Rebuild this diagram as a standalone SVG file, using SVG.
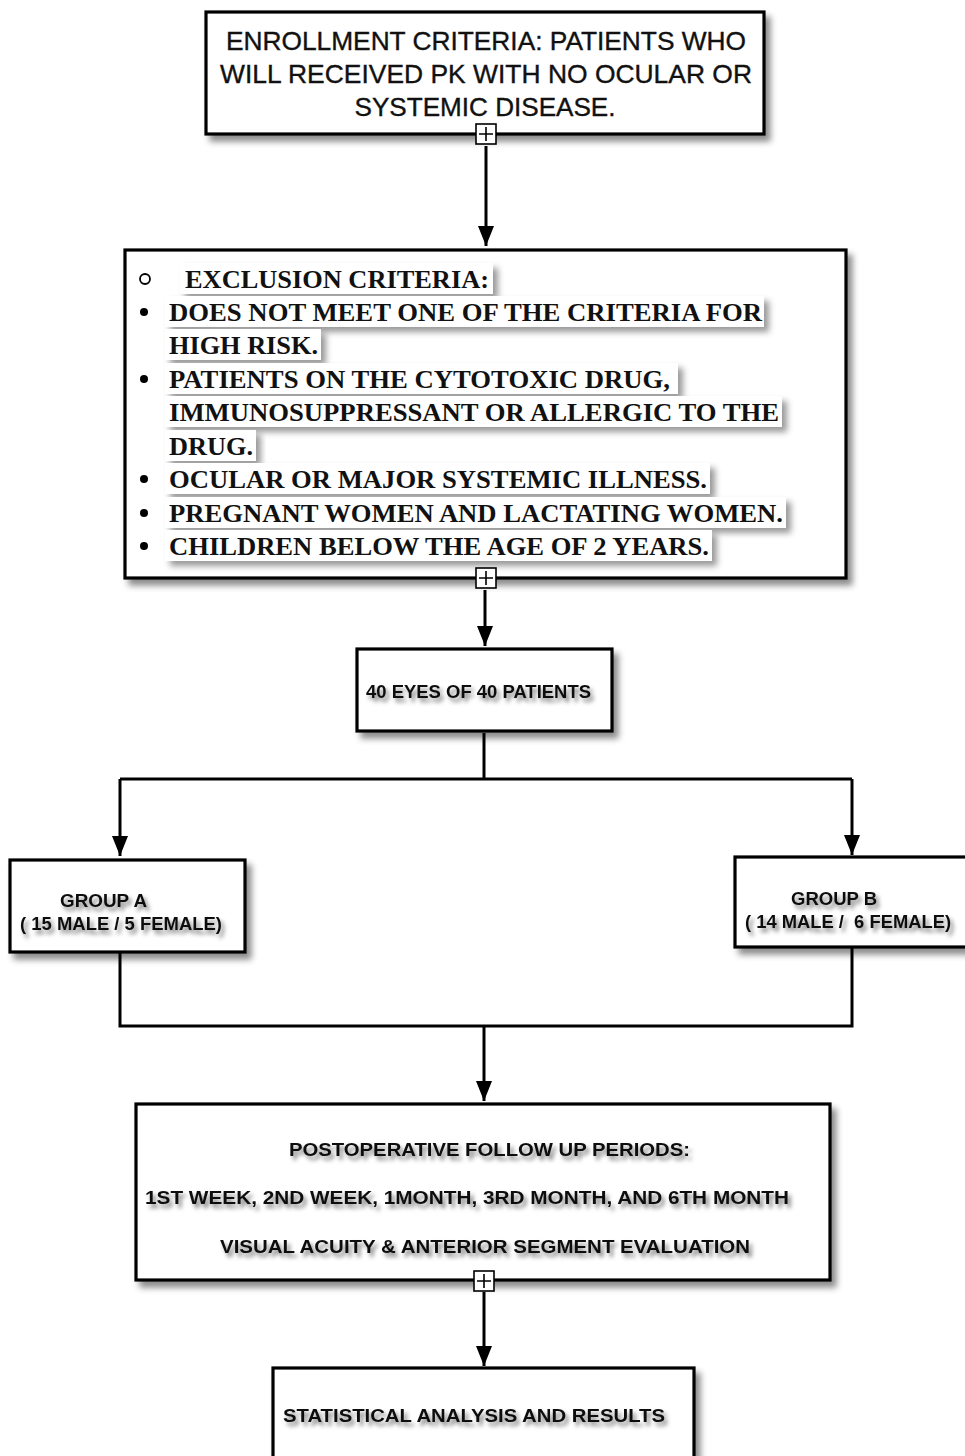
<svg xmlns="http://www.w3.org/2000/svg" width="965" height="1456" viewBox="0 0 965 1456">
<defs>
<filter id="boxsh" x="-10%" y="-10%" width="125%" height="130%">
<feDropShadow dx="5" dy="6" stdDeviation="3" flood-color="#000" flood-opacity="0.45"/>
</filter>
<filter id="hlsh" x="-5%" y="-20%" width="115%" height="160%">
<feDropShadow dx="5" dy="5" stdDeviation="3" flood-color="#000" flood-opacity="0.4"/>
</filter>
<filter id="txsh" x="-5%" y="-30%" width="115%" height="180%">
<feDropShadow dx="3" dy="4" stdDeviation="2" flood-color="#000" flood-opacity="0.5"/>
</filter>
<marker id="ahd" viewBox="0 0 16 20" refX="8" refY="20" markerWidth="16" markerHeight="20" markerUnits="userSpaceOnUse">
<path d="M0,0 L16,0 L8,20 Z" fill="#000"/>
</marker>
<g id="plus">
<rect x="-10" y="-10" width="20" height="20" fill="#fff" stroke="#000" stroke-width="1.6"/>
<path d="M-7,0 H7 M0,-7 V7" stroke="#000" stroke-width="1.6"/>
</g>
</defs>
<style>
.box{fill:#fff;stroke:#000;stroke-width:3.2;filter:url(#boxsh)}
.hl{fill:#fff;filter:url(#hlsh)}
.sans{font-family:"Liberation Sans",Arial,sans-serif;font-size:25px;fill:#111;stroke:#111;stroke-width:0.35}
.serif{font-family:"Liberation Serif","Times New Roman",serif;font-weight:bold;font-size:26px;fill:#111}
.cond{font-family:"Liberation Sans Narrow","Liberation Sans",Arial,sans-serif;font-weight:bold;font-size:19px;fill:#111;filter:url(#txsh)}
.ln{fill:none;stroke:#000;stroke-width:3}
</style>
<rect width="965" height="1456" fill="#fff"/>

<g id="enrollment">
<rect class="box" x="206" y="12" width="558" height="122"/>
<text class="sans" x="486" y="50" text-anchor="middle" textLength="520" lengthAdjust="spacingAndGlyphs">ENROLLMENT CRITERIA: PATIENTS WHO</text>
<text class="sans" x="486" y="83" text-anchor="middle" textLength="532" lengthAdjust="spacingAndGlyphs">WILL RECEIVED PK WITH NO OCULAR OR</text>
<text class="sans" x="485" y="116" text-anchor="middle" textLength="261" lengthAdjust="spacingAndGlyphs">SYSTEMIC DISEASE.</text>
<use href="#plus" x="486" y="134"/>
</g>

<g id="exclusion">
<rect class="box" x="125" y="250" width="721" height="328"/>
<rect class="hl" x="180" y="263" width="313" height="31"/>
<rect class="hl" x="165" y="296" width="599" height="31"/>
<rect class="hl" x="165" y="329" width="156" height="31"/>
<rect class="hl" x="165" y="363" width="513" height="31"/>
<rect class="hl" x="165" y="396" width="617" height="31"/>
<rect class="hl" x="165" y="430" width="91" height="31"/>
<rect class="hl" x="165" y="463" width="545" height="31"/>
<rect class="hl" x="165" y="497" width="621" height="31"/>
<rect class="hl" x="165" y="530" width="547" height="31"/>
<circle cx="145" cy="279" r="5" fill="none" stroke="#000" stroke-width="1.8"/>
<text class="serif" x="185" y="288" textLength="304" lengthAdjust="spacingAndGlyphs">EXCLUSION CRITERIA:</text>
<g fill="#000">
<circle cx="144" cy="312" r="4"/>
<circle cx="144" cy="379" r="4"/>
<circle cx="144" cy="479" r="4"/>
<circle cx="144" cy="513" r="4"/>
<circle cx="144" cy="546" r="4"/>
</g>
<text class="serif" x="169" y="321" textLength="593" lengthAdjust="spacingAndGlyphs">DOES NOT MEET ONE OF THE CRITERIA FOR</text>
<text class="serif" x="169" y="354" textLength="149" lengthAdjust="spacingAndGlyphs">HIGH RISK.</text>
<text class="serif" x="169" y="388" textLength="501" lengthAdjust="spacingAndGlyphs">PATIENTS ON THE CYTOTOXIC DRUG,</text>
<text class="serif" x="169" y="421" textLength="610" lengthAdjust="spacingAndGlyphs">IMMUNOSUPPRESSANT OR ALLERGIC TO THE</text>
<text class="serif" x="169" y="455" textLength="84" lengthAdjust="spacingAndGlyphs">DRUG.</text>
<text class="serif" x="169" y="488" textLength="538" lengthAdjust="spacingAndGlyphs">OCULAR OR MAJOR SYSTEMIC ILLNESS.</text>
<text class="serif" x="169" y="522" textLength="614" lengthAdjust="spacingAndGlyphs">PREGNANT WOMEN AND LACTATING WOMEN.</text>
<text class="serif" x="169" y="555" textLength="540" lengthAdjust="spacingAndGlyphs">CHILDREN BELOW THE AGE OF 2 YEARS.</text>
<use href="#plus" x="486" y="578"/>
</g>

<g id="patients">
<rect class="box" x="357" y="649" width="255" height="82"/>
<text class="cond" x="366" y="698" textLength="225" lengthAdjust="spacingAndGlyphs">40 EYES OF 40 PATIENTS</text>
</g>

<g id="groupA">
<rect class="box" x="10" y="860" width="235" height="92"/>
<text class="cond" x="60" y="907" textLength="87" lengthAdjust="spacingAndGlyphs">GROUP A</text>
<text class="cond" x="20" y="930" textLength="202" lengthAdjust="spacingAndGlyphs">( 15 MALE / 5 FEMALE)</text>
</g>

<g id="groupB">
<rect class="box" x="735" y="857" width="240" height="90"/>
<text class="cond" x="791" y="905" textLength="86" lengthAdjust="spacingAndGlyphs">GROUP B</text>
<text class="cond" x="745" y="928" textLength="206" lengthAdjust="spacingAndGlyphs" xml:space="preserve">( 14 MALE /  6 FEMALE)</text>
</g>

<g id="followup">
<rect class="box" x="136" y="1104" width="694" height="176"/>
<text class="cond" x="289" y="1156" textLength="401" lengthAdjust="spacingAndGlyphs">POSTOPERATIVE FOLLOW UP PERIODS:</text>
<text class="cond" x="145" y="1204" textLength="644" lengthAdjust="spacingAndGlyphs">1ST WEEK, 2ND WEEK, 1MONTH, 3RD MONTH, AND 6TH MONTH</text>
<text class="cond" x="220" y="1253" textLength="530" lengthAdjust="spacingAndGlyphs">VISUAL ACUITY &amp; ANTERIOR SEGMENT EVALUATION</text>
<use href="#plus" x="484" y="1281"/>
</g>

<g id="results">
<rect class="box" x="273" y="1368" width="421" height="100"/>
<text class="cond" x="283" y="1422" textLength="382" lengthAdjust="spacingAndGlyphs">STATISTICAL ANALYSIS AND RESULTS</text>
</g>

<g id="connectors">
<path class="ln" d="M486,146 V246" marker-end="url(#ahd)"/>
<path class="ln" d="M485,590 V646" marker-end="url(#ahd)"/>
<path class="ln" d="M484,733 V779"/>
<path class="ln" d="M120,779 H852"/>
<path class="ln" d="M120,779 V856" marker-end="url(#ahd)"/>
<path class="ln" d="M852,779 V855" marker-end="url(#ahd)"/>
<path class="ln" d="M120,953 V1026 H852 V948"/>
<path class="ln" d="M484,1026 V1101" marker-end="url(#ahd)"/>
<path class="ln" d="M484,1292 V1366" marker-end="url(#ahd)"/>
</g>
</svg>
